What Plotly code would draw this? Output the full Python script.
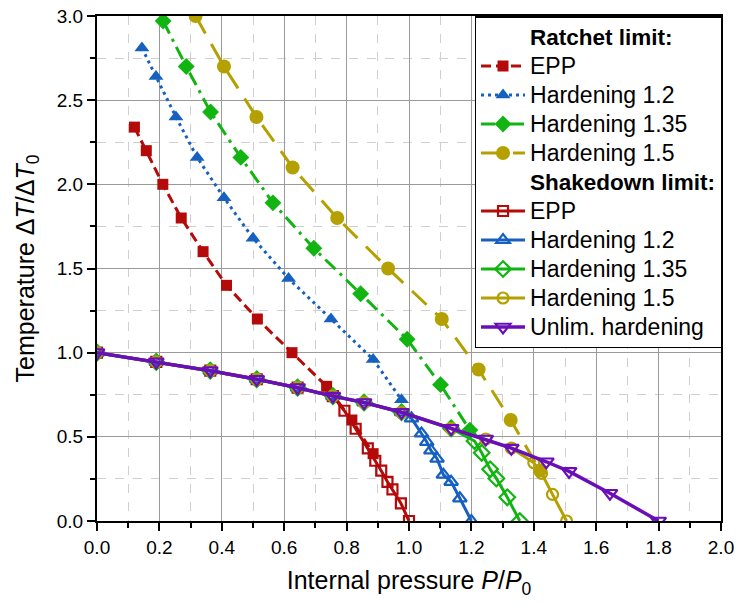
import plotly.graph_objects as go

# ---------------- data ----------------
ratchet_epp_p = [0.12, 0.158, 0.211, 0.27, 0.34, 0.415, 0.514, 0.625, 0.736, 0.817, 0.885]
ratchet_epp_t = [2.34, 2.20, 2.00, 1.80, 1.60, 1.40, 1.20, 1.00, 0.80, 0.60, 0.40]

ratchet_h12_p = [0.144, 0.189, 0.253, 0.321, 0.407, 0.500, 0.614, 0.750, 0.885, 0.976]
ratchet_h12_t = [2.81, 2.64, 2.40, 2.16, 1.92, 1.68, 1.44, 1.20, 0.96, 0.72]

ratchet_h135_p = [0.212, 0.286, 0.364, 0.461, 0.564, 0.695, 0.845, 0.994, 1.101, 1.195]
ratchet_h135_t = [2.97, 2.70, 2.43, 2.16, 1.89, 1.62, 1.35, 1.08, 0.81, 0.54]

ratchet_h15_p = [0.316, 0.407, 0.511, 0.627, 0.770, 0.933, 1.105, 1.223, 1.326, 1.42]
ratchet_h15_t = [3.00, 2.70, 2.40, 2.10, 1.80, 1.50, 1.20, 0.90, 0.60, 0.30]

shake_epp_p = [0.0, 0.19, 0.363, 0.512, 0.643, 0.756, 0.793, 0.829, 0.868, 0.892, 0.911, 0.931, 0.947, 0.974, 1.0]
shake_epp_t = [1.0, 0.945, 0.893, 0.842, 0.792, 0.742, 0.655, 0.548, 0.431, 0.358, 0.299, 0.233, 0.188, 0.105, 0.0]

shake_h12_p = [0.0, 0.19, 0.363, 0.512, 0.643, 0.756, 0.856, 0.976, 1.008, 1.04, 1.057, 1.07, 1.09, 1.11, 1.135, 1.163, 1.2]
shake_h12_t = [1.0, 0.945, 0.893, 0.842, 0.792, 0.742, 0.704, 0.646, 0.61, 0.52, 0.47, 0.42, 0.37, 0.275, 0.233, 0.135, 0.0]

shake_h135_p = [0.0, 0.19, 0.363, 0.512, 0.643, 0.756, 0.856, 0.976, 1.135, 1.21, 1.233, 1.26, 1.28, 1.315, 1.355]
shake_h135_t = [1.0, 0.945, 0.893, 0.842, 0.792, 0.742, 0.704, 0.646, 0.55, 0.475, 0.405, 0.307, 0.253, 0.141, 0.0]

shake_h15_p = [0.0, 0.19, 0.363, 0.512, 0.643, 0.756, 0.856, 0.976, 1.135, 1.246, 1.328, 1.40, 1.425, 1.46, 1.505]
shake_h15_t = [1.0, 0.945, 0.893, 0.842, 0.792, 0.742, 0.704, 0.646, 0.55, 0.487, 0.433, 0.346, 0.283, 0.158, 0.0]

unlim_p = [0.0, 0.19, 0.363, 0.512, 0.643, 0.756, 0.856, 0.976, 1.135, 1.246, 1.328, 1.44, 1.513, 1.644, 1.80]
unlim_t = [1.0, 0.945, 0.893, 0.842, 0.792, 0.742, 0.704, 0.646, 0.55, 0.487, 0.433, 0.352, 0.295, 0.165, 0.0]

x_ticks = [0.0, 0.2, 0.4, 0.6, 0.8, 1.0, 1.2, 1.4, 1.6, 1.8, 2.0]
y_ticks = [0.0, 0.5, 1.0, 1.5, 2.0, 2.5, 3.0]

# ---------------- styles ----------------
RED = "#B50A0A"
BLUE = "#1660C0"
GREEN = "#12B412"
OLIVE = "#B4A000"
PURPLE = "#6A0FB8"
FONT = "Liberation Sans, Arial, sans-serif"


def lg(text, bold=False):
    if bold:
        return f'<span style="font-size:22.5px"><b>{text}</b></span>'
    return f'<span style="font-size:23px">{text}</span>'


fig = go.Figure()


def header(name):
    fig.add_trace(go.Scatter(x=[None], y=[None], mode="lines", name=lg(name, True),
                             line=dict(width=0, color="rgba(0,0,0,0)"),
                             hoverinfo="skip"))


header("Ratchet limit:")
fig.add_trace(go.Scatter(x=ratchet_epp_p, y=ratchet_epp_t, name=lg("EPP"), mode="lines+markers",
                         line=dict(color=RED, width=3, dash="10px,5px"),
                         marker=dict(symbol="square", size=11, color=RED)))
fig.add_trace(go.Scatter(x=ratchet_h12_p, y=ratchet_h12_t, name=lg("Hardening 1.2"), mode="lines+markers",
                         line=dict(color=BLUE, width=3, dash="3px,4px"),
                         marker=dict(symbol="triangle-up", size=13, color=BLUE)))
fig.add_trace(go.Scatter(x=ratchet_h135_p, y=ratchet_h135_t, name=lg("Hardening 1.35"), mode="lines+markers",
                         line=dict(color=GREEN, width=3, dash="14px,6px,3px,6px"),
                         marker=dict(symbol="diamond", size=13, color=GREEN)))
fig.add_trace(go.Scatter(x=ratchet_h15_p, y=ratchet_h15_t, name=lg("Hardening 1.5"), mode="lines+markers",
                         line=dict(color=OLIVE, width=3, dash="20px,12px"),
                         marker=dict(symbol="circle", size=14, color=OLIVE)))
header("Shakedown limit:")
fig.add_trace(go.Scatter(x=shake_epp_p, y=shake_epp_t, name=lg("EPP"), mode="lines+markers",
                         line=dict(color=RED, width=3),
                         marker=dict(symbol="square-open", size=10, color=RED, line=dict(width=2.2))))
fig.add_trace(go.Scatter(x=shake_h12_p, y=shake_h12_t, name=lg("Hardening 1.2"), mode="lines+markers",
                         line=dict(color=BLUE, width=3),
                         marker=dict(symbol="triangle-up-open", size=12, color=BLUE, line=dict(width=2.2))))
fig.add_trace(go.Scatter(x=shake_h135_p, y=shake_h135_t, name=lg("Hardening 1.35"), mode="lines+markers",
                         line=dict(color=GREEN, width=3),
                         marker=dict(symbol="diamond-open", size=12, color=GREEN, line=dict(width=2.2))))
fig.add_trace(go.Scatter(x=shake_h15_p, y=shake_h15_t, name=lg("Hardening 1.5"), mode="lines+markers",
                         line=dict(color=OLIVE, width=3),
                         marker=dict(symbol="circle-open", size=11, color=OLIVE, line=dict(width=2.2))))
fig.add_trace(go.Scatter(x=unlim_p, y=unlim_t, name=lg("Unlim. hardening"), mode="lines+markers",
                         line=dict(color=PURPLE, width=3.5),
                         marker=dict(symbol="triangle-down-open", size=13, color=PURPLE, line=dict(width=2.2))))

axis_common = dict(
    showline=True, linecolor="black", linewidth=2, mirror=True,
    ticks="outside", ticklen=8, tickwidth=2, tickcolor="black",
    showgrid=True, gridcolor="#9a9a9a", gridwidth=1,
    zeroline=False, automargin=False, ticklabeloverflow="allow",
    tickfont=dict(family=FONT, size=19, color="black"),
)

fig.update_xaxes(
    range=[0, 2.0], tickvals=x_ticks, ticktext=[f"{v:.1f}" for v in x_ticks],
    minor=dict(dtick=0.1, tick0=0, ticks="outside", ticklen=5, tickwidth=1.5, tickcolor="black",
               showgrid=True, gridcolor="#cfcfcf", griddash="dash", gridwidth=1),
    title=dict(text="Internal pressure <i>P</i>/<i>P</i><sub>0</sub>",
               font=dict(family=FONT, size=25, color="black")),
    **axis_common)
fig.update_yaxes(
    range=[0, 3.0], tickvals=y_ticks, ticktext=[f"{v:.1f}" for v in y_ticks],
    minor=dict(dtick=0.25, tick0=0, ticks="outside", ticklen=5, tickwidth=1.5, tickcolor="black",
               showgrid=True, gridcolor="#cfcfcf", griddash="dash", gridwidth=1),
    title=dict(text="Temperature Δ<i>T</i>/Δ<i>T</i><sub>0</sub>",
               font=dict(family=FONT, size=25, color="black")),
    **axis_common)

fig.update_layout(
    width=739, height=605,
    margin=dict(l=97, r=18, t=16, b=84),
    paper_bgcolor="white", plot_bgcolor="white",
    showlegend=True,
    legend=dict(x=0.605, y=1.0, xanchor="left", yanchor="top",
                bgcolor="white", bordercolor="black", borderwidth=1.5,
                font=dict(family=FONT, size=20, color="black"),
                itemwidth=44, tracegroupgap=0),
)

# remove the page's default 8px body margin so the figure fills the window exactly
fig.write_html("out.html",
               config={"displayModeBar": False},
               post_script="document.body.style.margin='0';document.body.style.overflow='hidden';")
